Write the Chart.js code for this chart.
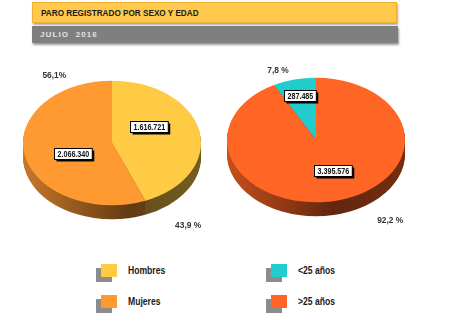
<!DOCTYPE html>
<html><head><meta charset="utf-8">
<script src="https://cdn.jsdelivr.net/npm/chart.js@4/dist/chart.umd.min.js"></script>
<style>
html,body{margin:0;padding:0;background:#fff;}
body{width:450px;height:335px;position:relative;overflow:hidden;font-family:"Liberation Sans",Arial,sans-serif;}
#t1{position:absolute;left:32px;top:2px;width:363px;height:19px;background:#FFC94C;border:1px solid #F2AE2F;box-shadow:1px 2px 2px rgba(0,0,0,0.35);}
#t1 span{position:absolute;left:8px;top:4px;font-weight:bold;font-size:9.5px;color:#1a1a1a;transform:scaleX(0.86);transform-origin:0 0;white-space:pre;}
#t2{position:absolute;left:32px;top:26px;width:366px;height:17px;background:#7f7f7f;box-shadow:1px 2px 2px rgba(0,0,0,0.4);}
#t2 span{position:absolute;left:8px;top:3.5px;font-weight:bold;font-size:8px;color:#e4e4e4;letter-spacing:1.1px;white-space:pre;}
canvas.pie{position:absolute;}
.lg{position:absolute;font-weight:bold;font-size:10px;color:#1a1a1a;white-space:pre;transform:scaleX(0.86);transform-origin:0 50%;}
.sw{position:absolute;width:16px;height:13px;}
.sh{position:absolute;width:16px;height:14px;background:#8c8c8c;}
</style>
</head><body>
<div id="t1"><span id="title"></span></div>
<div id="t2"><span id="subtitle"></span></div>
<canvas id="c1" class="pie" width="200" height="200" style="left:12px;top:43px;width:200px;height:200px"></canvas>
<canvas id="c2" class="pie" width="200" height="200" style="left:216px;top:40px;width:200px;height:200px"></canvas>
<div id="legend"></div>
<script>
// ---- data ----
const TITLE = 'PARO REGISTRADO POR SEXO Y EDAD';
const SUBTITLE = 'JULIO  2016';
const SEXO_LABELS = ['Hombres', 'Mujeres'];
const SEXO_VALUES = [1616721, 2066340];
const EDAD_LABELS = ['<25 años', '>25 años'];
const EDAD_VALUES = [287485, 3395576];

// ---- style ----
const SEXO_COLORS = ['#FFCB45', '#FF9A33'];
const EDAD_COLORS = ['#22CCCC', '#FF6524'];
const SY = 0.70;      // vertical flattening of the pie
const DEPTH = 14;     // 3D side depth in px
// label placement: [angle from top clockwise (deg), radius factor]
const SEXO_VALUE_POS = [[57, 0.50], [248, 0.47]];
const SEXO_PCT_POS = [[147, 1.57], [329, 1.26]];
const SEXO_PCT_SEP = [' %', '%'];
const EDAD_VALUE_POS = [[346, 0.74], [158, 0.52]];
const EDAD_PCT_POS = [[339, 1.19], [147, 1.53]];
const EDAD_PCT_SEP = [' %', ' %'];

document.getElementById('title').textContent = TITLE;
document.getElementById('subtitle').textContent = SUBTITLE;

function fmtInt(n){ return String(n).replace(/\B(?=(\d{3})+(?!\d))/g, '.'); }
function fmtPct(v){ return v.toFixed(1).replace('.', ','); }
function hexRgb(h){ const n=parseInt(h.slice(1),16); return [n>>16&255, n>>8&255, n&255]; }
function shade(h,f){ const c=hexRgb(h); return 'rgb('+c.map(v=>Math.round(v*f)).join(',')+')'; }

function pie3d(valuePos, pctPos, pctSep){
  return {
    id: 'pie3d',
    beforeDatasetsDraw(chart){
      const ctx = chart.ctx, meta = chart.getDatasetMeta(0);
      const a0 = meta.data[0]; const cx = a0.x, cy = a0.y, r = a0.outerRadius;
      const colors = chart.data.datasets[0].backgroundColor;
      for (let d = DEPTH; d >= 1; d--) {
        ctx.save();
        ctx.translate(cx, cy + d); ctx.scale(1, SY);
        meta.data.forEach((arc, i) => {
          const g = ctx.createLinearGradient(-r, 0, r, 0);
          g.addColorStop(0, shade(colors[i], 0.78));
          g.addColorStop(0.6, shade(colors[i], 0.38));
          g.addColorStop(1, shade(colors[i], 0.46));
          ctx.beginPath(); ctx.moveTo(0, 0);
          ctx.arc(0, 0, r, arc.startAngle, arc.endAngle);
          ctx.closePath(); ctx.fillStyle = g; ctx.fill();
        });
        ctx.restore();
      }
      ctx.save();
      ctx.translate(cx, cy); ctx.scale(1, SY); ctx.translate(-cx, -cy);
    },
    afterDatasetsDraw(chart){ chart.ctx.restore(); },
    afterDraw(chart){
      const ctx = chart.ctx, meta = chart.getDatasetMeta(0);
      const a0 = meta.data[0]; const cx = a0.x, cy = a0.y, r = a0.outerRadius;
      const vals = chart.data.datasets[0].data;
      const total = vals.reduce((a, b) => a + b, 0);
      const pos = (p) => { const t = p[0] * Math.PI / 180; return [cx + Math.sin(t) * p[1] * r, cy - Math.cos(t) * p[1] * r * SY]; };
      ctx.save();
      ctx.textAlign = 'center'; ctx.textBaseline = 'middle';
      vals.forEach((v, i) => {
        // value box
        const [x, y] = pos(valuePos[i]);
        const txt = fmtInt(v);
        ctx.font = 'bold 8.5px "Liberation Sans", Arial, sans-serif';
        const w = ctx.measureText(txt).width * 0.84 + 6, h = 11;
        const bx = Math.round(x - w / 2) + 0.5, by = Math.round(y - h / 2) + 0.5;
        ctx.fillStyle = '#000'; ctx.fillRect(bx + 2, by + 2, w, h);
        ctx.fillStyle = '#fff'; ctx.fillRect(bx, by, w, h);
        ctx.strokeStyle = '#000'; ctx.lineWidth = 1; ctx.strokeRect(bx, by, w, h);
        ctx.save(); ctx.translate(bx + w / 2, by + h / 2 + 0.5); ctx.scale(0.84, 1);
        ctx.fillStyle = '#111'; ctx.fillText(txt, 0, 0); ctx.restore();
        // percentage
        const [px, py] = pos(pctPos[i]);
        ctx.font = 'bold 9.5px "Liberation Sans", Arial, sans-serif';
        ctx.save(); ctx.translate(px, py); ctx.scale(0.88, 1);
        ctx.fillStyle = '#333'; ctx.fillText(fmtPct(v / total * 100) + pctSep[i], 0, 0); ctx.restore();
      });
      ctx.restore();
    }
  };
}

function makePie(id, labels, values, colors, rotation, vp, pp, ps){
  return new Chart(document.getElementById(id), {
    type: 'pie',
    data: { labels: labels, datasets: [{ data: values, backgroundColor: colors, borderWidth: 0, hoverOffset: 0, offset: 0 }] },
    options: {
      responsive: false, animation: false, events: [],
      rotation: rotation,
      layout: { padding: 11 },
      plugins: { legend: { display: false }, tooltip: { enabled: false } }
    },
    plugins: [pie3d(vp, pp, ps)]
  });
}

makePie('c1', SEXO_LABELS, SEXO_VALUES, SEXO_COLORS, 0, SEXO_VALUE_POS, SEXO_PCT_POS, SEXO_PCT_SEP);
const edadTotal = EDAD_VALUES.reduce((a, b) => a + b, 0);
makePie('c2', EDAD_LABELS, EDAD_VALUES, EDAD_COLORS, -360 * EDAD_VALUES[0] / edadTotal, EDAD_VALUE_POS, EDAD_PCT_POS, EDAD_PCT_SEP);

// ---- legend (HTML) ----
const legend = document.getElementById('legend');
function addLegend(labels, colors, x0){
  labels.forEach((lab, i) => {
    const y0 = 264 + i * 31;
    const sh = document.createElement('div'); sh.className = 'sh';
    sh.style.left = (x0 - 5) + 'px'; sh.style.top = (y0 + 4) + 'px'; legend.appendChild(sh);
    const sw = document.createElement('div'); sw.className = 'sw';
    sw.style.left = x0 + 'px'; sw.style.top = y0 + 'px'; sw.style.background = colors[i]; legend.appendChild(sw);
    const t = document.createElement('div'); t.className = 'lg'; t.textContent = lab;
    t.style.left = (x0 + 27) + 'px'; t.style.top = (y0 + 1) + 'px'; legend.appendChild(t);
  });
}
addLegend(SEXO_LABELS, SEXO_COLORS, 101);
addLegend(EDAD_LABELS, EDAD_COLORS, 271);
</script>
</body></html>
